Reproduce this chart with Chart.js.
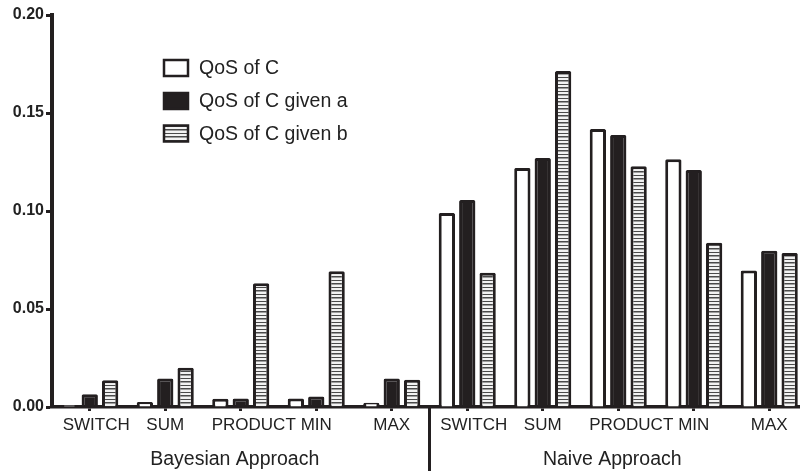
<!DOCTYPE html>
<html>
<head>
<meta charset="utf-8">
<script src="https://cdn.jsdelivr.net/npm/chart.js@4.4.1/dist/chart.umd.min.js"></script>
<style>
    html, body { margin: 0; padding: 0; background: #fff; overflow: hidden; }
    #wrap { width: 800px; height: 471px; overflow: hidden; }
</style>
</head>
<body>
<div id="wrap"><canvas id="qosChart" width="810" height="471"></canvas></div>
<script>
// data
const categories = ['SWITCH', 'SUM', 'PRODUCT', 'MIN', 'MAX', 'SWITCH', 'SUM', 'PRODUCT', 'MIN', 'MAX'];
const groupNames = ['Bayesian Approach', 'Naive Approach'];
const seriesNames = ['QoS of C', 'QoS of C given a', 'QoS of C given b'];
const qosC = [0.0010, 0.0026, 0.0042, 0.0043, 0.0022, 0.0990, 0.1220, 0.1418, 0.1264, 0.0697];
const qosGivenA = [0.0065, 0.0146, 0.0043, 0.0053, 0.0146, 0.1056, 0.1270, 0.1388, 0.1209, 0.0797];
const qosGivenB = [0.0136, 0.0200, 0.0631, 0.0692, 0.0139, 0.0685, 0.1714, 0.1228, 0.0838, 0.0786];
const yTicks = [0, 0.05, 0.10, 0.15, 0.20];

const ink = '#231f20';
const font = '"Liberation Sans", Arial, sans-serif';
// the original labels sit a bit right of their tick for these two
const labelShift = { SWITCH: 6.5, PRODUCT: 13 };

// horizontal stripe fill
function makeStripes() {
    const c = document.createElement('canvas');
    c.width = 1;
    c.height = 7;
    const g = c.getContext('2d');
    g.fillStyle = '#f2f2f2';
    g.fillRect(0, 0, 1, 7);
    g.fillStyle = '#4a4a4a';
    g.fillRect(0, 0, 1, 1);
    g.fillRect(0, 3, 1, 1.5);
    return g.createPattern(c, 'repeat');
}
const stripes = makeStripes();
const fills = ['#ffffff', ink, stripes];

// x labels, legend, group names and divider
const extras = {
    id: 'extras',
    afterDraw(chart) {
        const ctx = chart.ctx;
        const x = chart.scales.x;
        ctx.save();

        // category labels
        ctx.fillStyle = '#222';
        ctx.font = '17px ' + font;
        ctx.textAlign = 'center';
        ctx.textBaseline = 'alphabetic';
        categories.forEach(function (name, i) {
            ctx.fillText(name, x.getPixelForValue(i) + (labelShift[name] || 0), 430);
        });

        // legend
        const rows = [68, 101, 133.5];
        rows.forEach(function (y, i) {
            ctx.fillStyle = fills[i];
            ctx.fillRect(164, y - 8, 24, 16);
            ctx.strokeStyle = ink;
            ctx.lineWidth = 2.5;
            ctx.strokeRect(164, y - 8, 24, 16);
            ctx.fillStyle = '#222';
            ctx.font = '19.5px ' + font;
            ctx.textBaseline = 'middle';
            ctx.textAlign = 'left';
            ctx.fillText(seriesNames[i], 199, y + 1);
        });

        // divider between groups
        const mid = (x.getPixelForValue(4) + x.getPixelForValue(5)) / 2;
        ctx.strokeStyle = ink;
        ctx.lineWidth = 3;
        ctx.beginPath();
        ctx.moveTo(mid, chart.chartArea.bottom);
        ctx.lineTo(mid, chart.height);
        ctx.stroke();

        // group names
        ctx.fillStyle = '#222';
        ctx.font = '19.5px ' + font;
        ctx.textAlign = 'center';
        ctx.textBaseline = 'alphabetic';
        const c1 = (x.getPixelForValue(0) + x.getPixelForValue(4)) / 2 - 6;
        const c2 = (x.getPixelForValue(5) + x.getPixelForValue(9)) / 2 - 6;
        ctx.fillText(groupNames[0], c1, 465);
        ctx.fillText(groupNames[1], c2, 465);
        ctx.restore();
    }
};

const ctx = document.getElementById('qosChart').getContext('2d');
const barStyle = {
    borderColor: ink,
    borderWidth: 3,
    borderRadius: 1.5,
    borderSkipped: 'start',
    categoryPercentage: 0.81,
    barPercentage: 0.8
};

new Chart(ctx, {
    type: 'bar',
    data: {
        labels: categories,
        datasets: [
            Object.assign({ label: seriesNames[0], data: qosC, backgroundColor: fills[0] }, barStyle),
            Object.assign({ label: seriesNames[1], data: qosGivenA, backgroundColor: fills[1] }, barStyle),
            Object.assign({ label: seriesNames[2], data: qosGivenB, backgroundColor: fills[2] }, barStyle)
        ]
    },
    options: {
        responsive: false,
        animation: false,
        devicePixelRatio: 1,
        layout: {
            padding: { top: 15, right: 3, left: 0, bottom: 0 }
        },
        plugins: {
            legend: { display: false },
            tooltip: { enabled: false }
        },
        scales: {
            x: {
                grid: {
                    offset: false,
                    drawOnChartArea: false,
                    tickLength: 4,
                    tickWidth: 3,
                    tickColor: ink
                },
                border: { color: ink, width: 3.5 },
                ticks: {
                    display: false,
                    autoSkip: false,
                    maxRotation: 0,
                    minRotation: 0
                },
                afterFit: function (scale) {
                    scale.height = 64;
                }
            },
            y: {
                min: 0,
                max: 0.2,
                afterBuildTicks: function (scale) {
                    scale.ticks = yTicks.map(function (v) { return { value: v }; });
                },
                grid: {
                    drawOnChartArea: false,
                    tickLength: 6,
                    tickWidth: 3,
                    tickColor: ink
                },
                border: { color: ink, width: 4 },
                ticks: {
                    padding: 2,
                    color: '#222',
                    font: { family: font, size: 16, weight: 'bold' },
                    callback: function (v) { return Number(v).toFixed(2); }
                },
                afterFit: function (scale) {
                    scale.width = 52;
                }
            }
        }
    },
    plugins: [extras]
});
</script>
</body>
</html>
